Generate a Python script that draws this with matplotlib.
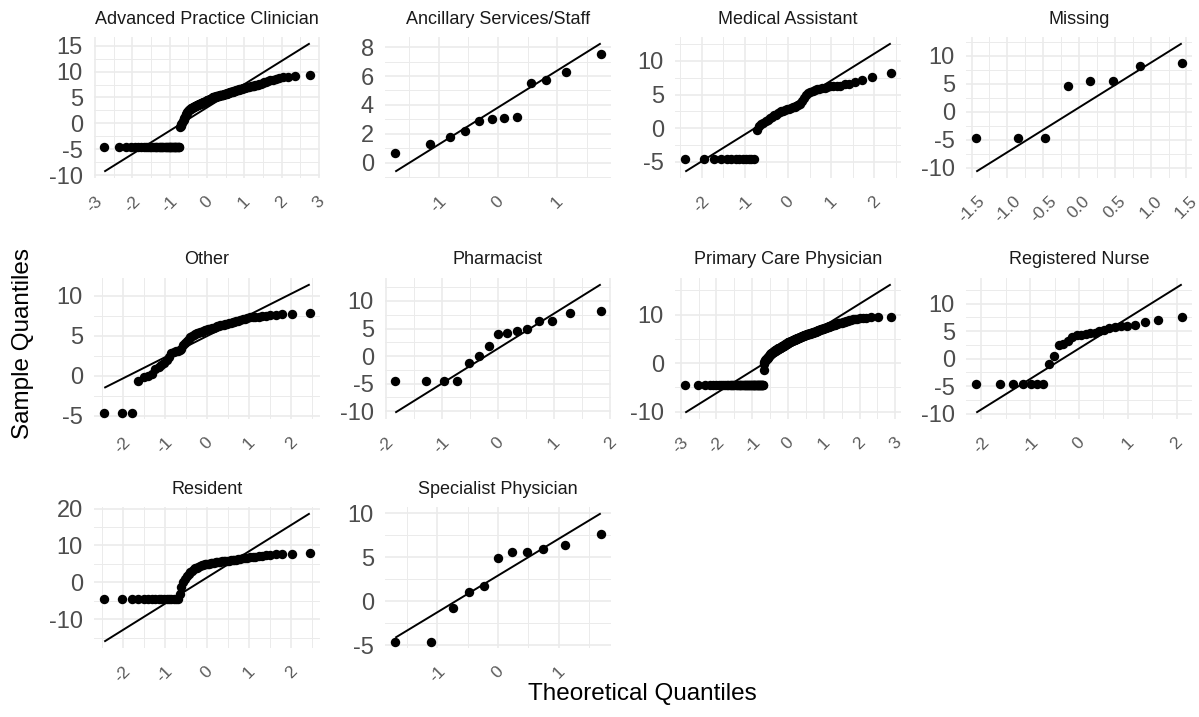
import numpy as np
import matplotlib
matplotlib.use("Agg")
import matplotlib.pyplot as plt
from matplotlib.ticker import MultipleLocator, FormatStrFormatter
from statistics import NormalDist

plt.rcParams["font.family"] = ["Liberation Sans", "DejaVu Sans"]
plt.rcParams["axes.unicode_minus"] = False

# === DATOS (muestras ordenadas) ===
apc = ([-4.6] * 39
       + [-0.8, -0.5, -0.2, 0.1, 0.4, 0.7, 1.0, 1.3, 1.6, 1.8, 2.0, 2.2, 2.4]
       + [2.5, 2.6, 2.7, 2.8, 2.9, 3.0, 3.0, 3.1, 3.2, 3.2, 3.3, 3.3, 3.4, 3.5, 3.5, 3.6,
          3.6, 3.7, 3.7, 3.8, 3.8, 3.9, 3.9, 4.0, 4.0, 4.1, 4.1, 4.2, 4.2, 4.3, 4.3, 4.4]
       + [4.5, 4.5, 4.6, 4.6, 4.7, 4.7, 4.8, 4.8, 4.9, 4.9, 5.0, 5.0, 5.0, 5.1, 5.1, 5.1,
          5.2, 5.2, 5.2, 5.3, 5.3, 5.3, 5.4, 5.4, 5.4, 5.5, 5.5, 5.5, 5.5, 5.6, 5.6, 5.6]
       + [5.7, 5.7, 5.8, 5.8, 5.9, 5.9, 6.0, 6.0, 6.1, 6.1, 6.1, 6.2, 6.2, 6.3, 6.3, 6.4,
          6.4, 6.5, 6.5, 6.6, 6.6, 6.7, 6.7, 6.8, 6.8]
       + [6.9, 6.9, 7.0, 7.0, 7.1, 7.1, 7.2, 7.2, 7.3, 7.3, 7.4, 7.5, 7.5, 7.6, 7.7, 7.8]
       + [7.9, 8.0, 8.1, 8.3, 8.4, 8.6, 8.7, 8.9, 9.0, 9.1, 9.4])

ancillary = [0.7, 1.3, 1.8, 2.2, 2.9, 3.0, 3.1, 3.2, 5.5, 5.7, 6.3, 7.5]

medical_assistant = ([-4.6] * 13
                     + [-0.2, 0.3, 0.6, 0.8, 1.0, 1.2, 1.5, 1.7, 1.9, 2.0, 2.2, 2.4, 2.5, 2.6,
                        2.7, 2.8, 2.9, 3.0, 3.1, 3.2, 3.3, 3.5, 3.6, 4.0, 4.5, 4.9, 5.2, 5.4,
                        5.6, 5.7, 5.8, 5.9, 6.0, 6.0, 6.1, 6.2, 6.2, 6.3, 6.3, 6.5, 6.6, 6.8,
                        7.1, 7.6, 8.2])

missing = [-4.6, -4.6, -4.6, 4.6, 5.5, 5.5, 8.1, 8.7]

other = ([-4.6] * 3
         + [-0.7, -0.2, 0.0, 0.2, 0.8, 1.1, 1.3, 1.6, 2.0, 2.3, 2.9, 3.0, 3.1, 3.1, 3.2, 3.4,
            3.8, 4.1, 4.4, 4.6, 4.8, 5.0, 5.1, 5.2, 5.3, 5.4, 5.5, 5.5, 5.6, 5.7, 5.7, 5.8,
            5.9, 5.9, 6.0, 6.0, 6.1, 6.2, 6.2, 6.3, 6.4, 6.4, 6.5, 6.5, 6.6, 6.6, 6.7, 6.7,
            6.9, 6.9, 7.0, 7.1, 7.1, 7.2, 7.3, 7.3, 7.4, 7.4, 7.5, 7.5, 7.6, 7.6, 7.7, 7.7,
            7.8])

pharmacist = [-4.6] * 4 + [-1.2, 0.1, 1.9, 4.0, 4.1, 4.6, 5.0, 6.3, 6.4, 7.8, 8.1]

pcp = ([-4.6] * 60
       + [-1.4, -0.1, 0.2, 0.4, 0.6, 0.7, 0.8, 0.9, 1.0, 1.1, 1.2, 1.3, 1.4, 1.5, 1.6, 1.7]
       + [1.8, 1.9, 2.0, 2.0, 2.1, 2.2, 2.2, 2.3, 2.4, 2.4, 2.5, 2.5, 2.6, 2.6, 2.7, 2.7,
          2.8, 2.8, 2.9, 2.9, 3.0, 3.0, 3.1, 3.1, 3.2, 3.2, 3.3]
       + [3.3, 3.4, 3.4, 3.5, 3.5, 3.5, 3.6, 3.6, 3.7, 3.7, 3.8, 3.8, 3.9, 3.9, 4.0, 4.0,
          4.1, 4.1, 4.2]
       + [4.2, 4.3, 4.3, 4.3, 4.4, 4.4, 4.4, 4.5, 4.5, 4.5, 4.6, 4.6, 4.6, 4.7, 4.7, 4.7,
          4.8, 4.8, 4.8, 4.9, 4.9, 4.9, 5.0, 5.0, 5.0, 5.1, 5.1, 5.1, 5.2]
       + [5.2, 5.2, 5.3, 5.3, 5.3, 5.4, 5.4, 5.4, 5.5, 5.5, 5.5, 5.6, 5.6, 5.6, 5.7, 5.7,
          5.7, 5.8, 5.8, 5.8, 5.9, 5.9, 5.9, 6.0, 6.0, 6.0, 6.0]
       + [6.0, 6.1, 6.1, 6.1, 6.1, 6.1, 6.2, 6.2, 6.3, 6.3, 6.4, 6.4, 6.5, 6.5, 6.6, 6.6,
          6.7, 6.7, 6.8, 6.8, 6.9, 6.9, 7.0, 7.0, 7.0, 7.1, 7.1, 7.1]
       + [7.2, 7.2, 7.3, 7.3, 7.4, 7.4, 7.5, 7.5, 7.6, 7.6, 7.7, 7.7, 7.8, 7.8, 7.9, 7.9,
          8.0, 8.0, 8.1, 8.2, 8.2, 8.3, 8.3, 8.4, 8.5, 8.5]
       + [8.6, 8.7, 8.8, 8.9, 9.0, 9.1, 9.1, 9.2, 9.3, 9.3, 9.4, 9.4, 9.5])

registered_nurse = ([-4.6] * 7
                    + [-1.0, 0.4, 2.5, 2.7, 3.2, 3.9, 4.2, 4.3, 4.4, 4.6, 4.7, 5.0, 5.2, 5.5,
                       5.8, 5.9, 6.0, 6.1, 6.7, 7.1, 7.6])

resident = ([-4.6] * 17
            + [-3.1, -1.3, 0.0, 1.0, 1.8, 2.3, 2.8, 3.2, 3.5, 3.8, 4.0, 4.2, 4.4, 4.6, 4.8,
               4.9, 5.0, 5.1, 5.1, 5.2, 5.3, 5.3, 5.4, 5.5, 5.5, 5.6, 5.7, 5.7, 5.8, 5.8,
               5.9, 6.0, 6.0, 6.1, 6.2, 6.3, 6.4, 6.5, 6.6, 6.7, 6.8, 6.9, 7.0, 7.1, 7.2,
               7.3, 7.5, 7.6, 7.7, 7.8, 8.0])

specialist = [-4.6, -4.6, -0.8, 1.0, 1.7, 4.9, 5.6, 5.6, 5.9, 6.4, 7.7]

paneles = ["Advanced Practice Clinician", "Ancillary Services/Staff", "Medical Assistant",
           "Missing", "Other", "Pharmacist", "Primary Care Physician", "Registered Nurse",
           "Resident", "Specialist Physician"]
muestras = [apc, ancillary, medical_assistant, missing, other, pharmacist, pcp,
            registered_nurse, resident, specialist]
x_paso = [1, 1, 1, 0.5, 1, 1, 1, 1, 1, 1]
y_paso = [5, 2, 5, 5, 5, 5, 10, 5, 10, 5]

# === FUNCIONES ===
nd = NormalDist()


def ppoints(n):
    a = 3 / 8 if n <= 10 else 0.5
    return (np.arange(1, n + 1) - a) / (n + 1 - 2 * a)


# === FIGURA ===
W, H = 1199, 717
fig = plt.figure(figsize=(W / 100, H / 100), dpi=100)
col_izq = [94, 385, 675, 966]
fila_sup = [37, 278, 507]
pw, ph = 226, 141

z1, z3 = nd.inv_cdf(0.25), nd.inv_cdf(0.75)

for k, (titulo, vals) in enumerate(zip(paneles, muestras)):
    r, c = divmod(k, 4)
    ax = fig.add_axes([col_izq[c] / W, 1 - (fila_sup[r] + ph) / H, pw / W, ph / H])
    y = np.sort(np.array(vals, dtype=float))
    x = np.array([nd.inv_cdf(p) for p in ppoints(len(y))])
    q1, q3 = np.quantile(y, [0.25, 0.75])
    pend = (q3 - q1) / (z3 - z1)
    orde = q1 - pend * z1

    ax.scatter(x, y, s=46, c="black", linewidths=0, zorder=3)
    ax.plot([x[0], x[-1]], [orde + pend * x[0], orde + pend * x[-1]],
            color="black", lw=1.4, zorder=4, solid_capstyle="butt")

    for s in ax.spines.values():
        s.set_visible(False)
    ax.set_axisbelow(True)
    ax.xaxis.set_major_locator(MultipleLocator(x_paso[k]))
    ax.xaxis.set_minor_locator(MultipleLocator(x_paso[k] / 2))
    ax.yaxis.set_major_locator(MultipleLocator(y_paso[k]))
    ax.yaxis.set_minor_locator(MultipleLocator(y_paso[k] / 2))
    if x_paso[k] < 1:
        ax.xaxis.set_major_formatter(FormatStrFormatter("%.1f"))
    else:
        ax.xaxis.set_major_formatter(FormatStrFormatter("%d"))
    ax.yaxis.set_major_formatter(FormatStrFormatter("%d"))
    ax.grid(which="major", color="#EBEBEB", lw=1.2)
    ax.grid(which="minor", color="#EBEBEB", lw=0.7)
    ax.tick_params(which="both", length=0)
    ax.tick_params(axis="y", labelsize=17, pad=8, labelcolor="#4D4D4D")
    ax.tick_params(axis="x", labelsize=12.5, pad=11, labelcolor="#5A5A5A",
                   labelrotation=45)
    ax.text(0.5, 1 + 18 / ph, titulo, transform=ax.transAxes, ha="center",
            va="center", fontsize=13, color="#1A1A1A")

fig.text(642 / W, 1 - 694 / H, "Theoretical Quantiles", ha="center", va="center",
         fontsize=17.5)
fig.text(23 / W, 1 - 343 / H, "Sample Quantiles", ha="center", va="center",
         rotation=90, fontsize=17.5)

fig.savefig("out.png", dpi=100, facecolor="white")
